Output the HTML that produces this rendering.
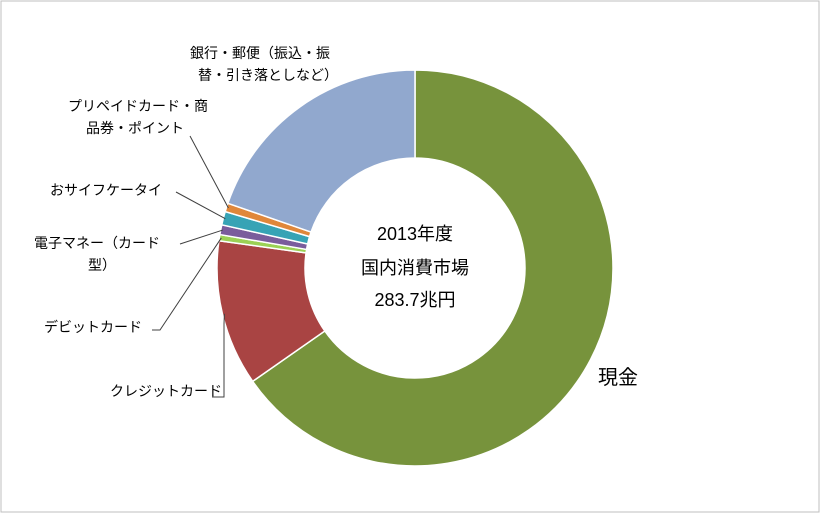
<!DOCTYPE html>
<html><head><meta charset="utf-8"><style>
body{margin:0;background:#fff;}
svg{display:block;font-family:"Liberation Sans","Noto Sans CJK JP",sans-serif;}
</style></head><body>
<svg id="chart" width="826" height="516">
<rect x="1" y="1" width="818" height="511" fill="#fff" stroke="#bfbfbf"/>
<g id="slices"></g>
<g id="leaders" stroke="#404040" stroke-width="1" fill="none"></g>
<g font-size="14" fill="#000">
<text x="190" y="58">銀行・郵便（振込・振</text>
<text x="198" y="80">替・引き落としなど）</text>
<text x="68" y="111">プリペイドカード・商</text>
<text x="86" y="133">品券・ポイント</text>
<text x="50" y="195">おサイフケータイ</text>
<text x="34" y="248">電子マネー（カード</text>
<text x="88" y="270">型）</text>
<text x="44" y="332">デビットカード</text>
<text x="110" y="396">クレジットカード</text>
<text x="598" y="384" font-size="20">現金</text>
</g>
<g font-size="18" fill="#000" text-anchor="middle">
<text x="415" y="240">2013年度</text>
<text x="415" y="274">国内消費市場</text>
<text x="415" y="306">283.7兆円</text>
</g>
</svg>
<script>
const categories=["現金","クレジットカード","デビットカード","電子マネー（カード型）","おサイフケータイ","プリペイドカード・商品券・ポイント","銀行・郵便（振込・振替・引き落としなど）"];
const values=[65.3,11.9,0.5,0.8,1.1,0.7,19.7];
const colors=["#77933c","#a94443","#9bd155","#7a5c9c","#37a3b5","#e0873a","#91a8ce"];
const cx=415,cy=268,R=198,r=110;
const total=values.reduce((a,b)=>a+b,0);
function pt(a,rad){return [cx+rad*Math.sin(a),cy-rad*Math.cos(a)];}
const g=document.getElementById('slices');
let a0=0;const mids=[];
values.forEach((v,i)=>{
 const a1=a0+v/total*2*Math.PI;
 const [x1,y1]=pt(a0,R),[x2,y2]=pt(a1,R),[x3,y3]=pt(a1,r),[x4,y4]=pt(a0,r);
 const lg=(a1-a0)>Math.PI?1:0;
 const p=document.createElementNS('http://www.w3.org/2000/svg','path');
 p.setAttribute('d',`M${x1},${y1}A${R},${R} 0 ${lg} 1 ${x2},${y2}L${x3},${y3}A${r},${r} 0 ${lg} 0 ${x4},${y4}Z`);
 p.setAttribute('fill',colors[i]);p.setAttribute('stroke','#fff');p.setAttribute('stroke-width','1.5');
 
 
 g.appendChild(p);
 mids.push((a0+a1)/2);a0=a1;
});
const L=document.getElementById('leaders');
const starts={2:[152,330,160,330],3:[180,244,180,244],4:[176,192,176,192],5:[190,136,190,136],1:[212,397,224,397]};
[1,2,3,4,5].forEach(i=>{
 const [ex,ey]=pt(mids[i],R-2);
 const s=starts[i];
 const l=document.createElementNS('http://www.w3.org/2000/svg','polyline');
 let pts=`${s[0]},${s[1]} ${s[2]},${s[3]} `;
 if(i==1)pts+=`${s[2]},${ey+10} `;
 pts+=`${ex},${ey}`;
 l.setAttribute('points',pts);
 
 
 L.appendChild(l);
});
</script>
</body></html>
